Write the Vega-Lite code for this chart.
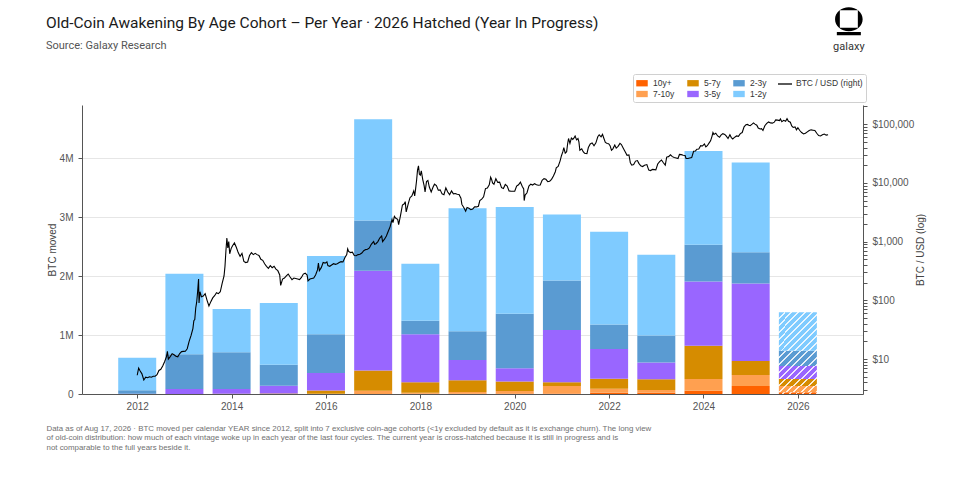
{
  "$schema": "https://vega.github.io/schema/vega-lite/v6.json",
  "width": 781,
  "height": 289,
  "autosize": "none",
  "padding": {"left": 82, "top": 105, "right": 97, "bottom": 108},
  "background": "white",
  "config": {
    "view": {"stroke": null},
    "font": "Liberation Sans",
    "axis": {"labelFont": "Liberation Sans", "titleFont": "Liberation Sans"},
    "legend": {"labelFont": "Liberation Sans"}
  },
  "title": {
    "text": "Old-Coin Awakening By Age Cohort – Per Year · 2026 Hatched (Year In Progress)",
    "subtitle": "Source: Galaxy Research",
    "anchor": "start",
    "frame": "group",
    "dx": -36,
    "dy": 44,
    "offset": 0,
    "font": "Roboto",
    "fontSize": 15.5,
    "fontWeight": "normal",
    "color": "#1a1a1a",
    "subtitleFont": "Roboto",
    "subtitleFontSize": 11,
    "subtitleColor": "#555555",
    "subtitlePadding": 9
  },
  "datasets": {
    "cohorts": [
      {"year":2012,"cohort":"10y+","k":1,"btc":0},{"year":2012,"cohort":"7-10y","k":2,"btc":0},{"year":2012,"cohort":"5-7y","k":3,"btc":0},{"year":2012,"cohort":"3-5y","k":4,"btc":5000},{"year":2012,"cohort":"2-3y","k":5,"btc":60000},{"year":2012,"cohort":"1-2y","k":6,"btc":550000},
      {"year":2013,"cohort":"10y+","k":1,"btc":0},{"year":2013,"cohort":"7-10y","k":2,"btc":0},{"year":2013,"cohort":"5-7y","k":3,"btc":0},{"year":2013,"cohort":"3-5y","k":4,"btc":85000},{"year":2013,"cohort":"2-3y","k":5,"btc":590000},{"year":2013,"cohort":"1-2y","k":6,"btc":1365000},
      {"year":2014,"cohort":"10y+","k":1,"btc":0},{"year":2014,"cohort":"7-10y","k":2,"btc":0},{"year":2014,"cohort":"5-7y","k":3,"btc":5000},{"year":2014,"cohort":"3-5y","k":4,"btc":80000},{"year":2014,"cohort":"2-3y","k":5,"btc":623000},{"year":2014,"cohort":"1-2y","k":6,"btc":735000},
      {"year":2015,"cohort":"10y+","k":1,"btc":0},{"year":2015,"cohort":"7-10y","k":2,"btc":0},{"year":2015,"cohort":"5-7y","k":3,"btc":10000},{"year":2015,"cohort":"3-5y","k":4,"btc":130000},{"year":2015,"cohort":"2-3y","k":5,"btc":357000},{"year":2015,"cohort":"1-2y","k":6,"btc":1047000},
      {"year":2016,"cohort":"10y+","k":1,"btc":0},{"year":2016,"cohort":"7-10y","k":2,"btc":5000},{"year":2016,"cohort":"5-7y","k":3,"btc":55000},{"year":2016,"cohort":"3-5y","k":4,"btc":295000},{"year":2016,"cohort":"2-3y","k":5,"btc":656000},{"year":2016,"cohort":"1-2y","k":6,"btc":1330000},
      {"year":2017,"cohort":"10y+","k":1,"btc":0},{"year":2017,"cohort":"7-10y","k":2,"btc":55000},{"year":2017,"cohort":"5-7y","k":3,"btc":345000},{"year":2017,"cohort":"3-5y","k":4,"btc":1690000},{"year":2017,"cohort":"2-3y","k":5,"btc":850000},{"year":2017,"cohort":"1-2y","k":6,"btc":1720000},
      {"year":2018,"cohort":"10y+","k":1,"btc":5000},{"year":2018,"cohort":"7-10y","k":2,"btc":15000},{"year":2018,"cohort":"5-7y","k":3,"btc":180000},{"year":2018,"cohort":"3-5y","k":4,"btc":815000},{"year":2018,"cohort":"2-3y","k":5,"btc":226000},{"year":2018,"cohort":"1-2y","k":6,"btc":968000},
      {"year":2019,"cohort":"10y+","k":1,"btc":5000},{"year":2019,"cohort":"7-10y","k":2,"btc":30000},{"year":2019,"cohort":"5-7y","k":3,"btc":200000},{"year":2019,"cohort":"3-5y","k":4,"btc":340000},{"year":2019,"cohort":"2-3y","k":5,"btc":490000},{"year":2019,"cohort":"1-2y","k":6,"btc":2085000},
      {"year":2020,"cohort":"10y+","k":1,"btc":10000},{"year":2020,"cohort":"7-10y","k":2,"btc":40000},{"year":2020,"cohort":"5-7y","k":3,"btc":160000},{"year":2020,"cohort":"3-5y","k":4,"btc":227000},{"year":2020,"cohort":"2-3y","k":5,"btc":922000},{"year":2020,"cohort":"1-2y","k":6,"btc":1810000},
      {"year":2021,"cohort":"10y+","k":1,"btc":10000},{"year":2021,"cohort":"7-10y","k":2,"btc":126000},{"year":2021,"cohort":"5-7y","k":3,"btc":63000},{"year":2021,"cohort":"3-5y","k":4,"btc":888000},{"year":2021,"cohort":"2-3y","k":5,"btc":837000},{"year":2021,"cohort":"1-2y","k":6,"btc":1121000},
      {"year":2022,"cohort":"10y+","k":1,"btc":20000},{"year":2022,"cohort":"7-10y","k":2,"btc":70000},{"year":2022,"cohort":"5-7y","k":3,"btc":170000},{"year":2022,"cohort":"3-5y","k":4,"btc":504000},{"year":2022,"cohort":"2-3y","k":5,"btc":413000},{"year":2022,"cohort":"1-2y","k":6,"btc":1573000},
      {"year":2023,"cohort":"10y+","k":1,"btc":22000},{"year":2023,"cohort":"7-10y","k":2,"btc":46000},{"year":2023,"cohort":"5-7y","k":3,"btc":181000},{"year":2023,"cohort":"3-5y","k":4,"btc":283000},{"year":2023,"cohort":"2-3y","k":5,"btc":458000},{"year":2023,"cohort":"1-2y","k":6,"btc":1370000},
      {"year":2024,"cohort":"10y+","k":1,"btc":56000},{"year":2024,"cohort":"7-10y","k":2,"btc":200000},{"year":2024,"cohort":"5-7y","k":3,"btc":560000},{"year":2024,"cohort":"3-5y","k":4,"btc":1092000},{"year":2024,"cohort":"2-3y","k":5,"btc":623000},{"year":2024,"cohort":"1-2y","k":6,"btc":1590000},
      {"year":2025,"cohort":"10y+","k":1,"btc":136000},{"year":2025,"cohort":"7-10y","k":2,"btc":187000},{"year":2025,"cohort":"5-7y","k":3,"btc":237000},{"year":2025,"cohort":"3-5y","k":4,"btc":1313000},{"year":2025,"cohort":"2-3y","k":5,"btc":532000},{"year":2025,"cohort":"1-2y","k":6,"btc":1522000},
      {"year":2026,"cohort":"10y+","k":1,"btc":30000},{"year":2026,"cohort":"7-10y","k":2,"btc":106000},{"year":2026,"cohort":"5-7y","k":3,"btc":119000},{"year":2026,"cohort":"3-5y","k":4,"btc":220000},{"year":2026,"cohort":"2-3y","k":5,"btc":260000},{"year":2026,"cohort":"1-2y","k":6,"btc":652000}
    ],
    "price": [
      {"t":2012.00,"usd":5.3},{"t":2012.03,"usd":7.0},{"t":2012.06,"usd":6.3},{"t":2012.10,"usd":5.6},{"t":2012.14,"usd":4.4},{"t":2012.18,"usd":4.9},{"t":2012.22,"usd":4.8},{"t":2012.26,"usd":5.0},{"t":2012.30,"usd":4.9},{"t":2012.34,"usd":5.1},{"t":2012.38,"usd":5.1},{"t":2012.42,"usd":5.4},{"t":2012.46,"usd":6.4},{"t":2012.50,"usd":6.7},{"t":2012.54,"usd":7.6},{"t":2012.58,"usd":9.0},{"t":2012.62,"usd":11.0},{"t":2012.64,"usd":13.5},{"t":2012.66,"usd":10.0},{"t":2012.70,"usd":11.0},{"t":2012.74,"usd":12.3},{"t":2012.78,"usd":11.8},{"t":2012.82,"usd":11.2},{"t":2012.86,"usd":10.9},{"t":2012.90,"usd":12.4},{"t":2012.94,"usd":13.4},{"t":2012.98,"usd":13.5},
      {"t":2013.02,"usd":13.6},{"t":2013.06,"usd":15.0},{"t":2013.10,"usd":20.0},{"t":2013.14,"usd":25.0},{"t":2013.18,"usd":33.0},{"t":2013.20,"usd":45},{"t":2013.22,"usd":47},{"t":2013.24,"usd":74},{"t":2013.26,"usd":93},{"t":2013.28,"usd":140},{"t":2013.30,"usd":230},{"t":2013.31,"usd":90},{"t":2013.33,"usd":140},{"t":2013.36,"usd":115},{"t":2013.40,"usd":118},{"t":2013.44,"usd":130},{"t":2013.48,"usd":100},{"t":2013.52,"usd":80},{"t":2013.56,"usd":95},{"t":2013.60,"usd":110},{"t":2013.64,"usd":120},{"t":2013.68,"usd":135},{"t":2013.72,"usd":130},{"t":2013.76,"usd":140},{"t":2013.80,"usd":195},{"t":2013.84,"usd":260},{"t":2013.86,"usd":380},{"t":2013.88,"usd":700},{"t":2013.90,"usd":1150},{"t":2013.92,"usd":780},{"t":2013.94,"usd":1000},{"t":2013.96,"usd":620},{"t":2013.99,"usd":760},
      {"t":2014.02,"usd":850},{"t":2014.06,"usd":950},{"t":2014.10,"usd":800},{"t":2014.14,"usd":650},{"t":2014.18,"usd":560},{"t":2014.22,"usd":630},{"t":2014.26,"usd":460},{"t":2014.30,"usd":440},{"t":2014.34,"usd":450},{"t":2014.38,"usd":580},{"t":2014.42,"usd":650},{"t":2014.46,"usd":600},{"t":2014.50,"usd":630},{"t":2014.54,"usd":600},{"t":2014.58,"usd":580},{"t":2014.62,"usd":500},{"t":2014.66,"usd":480},{"t":2014.70,"usd":420},{"t":2014.74,"usd":380},{"t":2014.78,"usd":350},{"t":2014.82,"usd":390},{"t":2014.86,"usd":360},{"t":2014.90,"usd":380},{"t":2014.94,"usd":340},{"t":2014.98,"usd":320},
      {"t":2015.02,"usd":270},{"t":2015.04,"usd":180},{"t":2015.08,"usd":230},{"t":2015.12,"usd":240},{"t":2015.16,"usd":260},{"t":2015.20,"usd":280},{"t":2015.24,"usd":250},{"t":2015.28,"usd":225},{"t":2015.32,"usd":240},{"t":2015.36,"usd":235},{"t":2015.40,"usd":230},{"t":2015.44,"usd":225},{"t":2015.48,"usd":245},{"t":2015.52,"usd":280},{"t":2015.56,"usd":290},{"t":2015.60,"usd":270},{"t":2015.62,"usd":215},{"t":2015.66,"usd":230},{"t":2015.70,"usd":235},{"t":2015.74,"usd":240},{"t":2015.78,"usd":270},{"t":2015.82,"usd":330},{"t":2015.84,"usd":430},{"t":2015.86,"usd":320},{"t":2015.90,"usd":360},{"t":2015.94,"usd":440},{"t":2015.98,"usd":430},
      {"t":2016.02,"usd":450},{"t":2016.04,"usd":390},{"t":2016.08,"usd":380},{"t":2016.12,"usd":400},{"t":2016.16,"usd":420},{"t":2016.20,"usd":410},{"t":2016.24,"usd":420},{"t":2016.28,"usd":440},{"t":2016.32,"usd":455},{"t":2016.36,"usd":450},{"t":2016.40,"usd":530},{"t":2016.44,"usd":600},{"t":2016.46,"usd":750},{"t":2016.48,"usd":680},{"t":2016.52,"usd":650},{"t":2016.56,"usd":660},{"t":2016.60,"usd":580},{"t":2016.64,"usd":575},{"t":2016.68,"usd":600},{"t":2016.72,"usd":610},{"t":2016.76,"usd":640},{"t":2016.80,"usd":700},{"t":2016.84,"usd":730},{"t":2016.88,"usd":740},{"t":2016.92,"usd":780},{"t":2016.96,"usd":900},{"t":2016.99,"usd":960},
      {"t":2017.01,"usd":1000},{"t":2017.03,"usd":900},{"t":2017.06,"usd":920},{"t":2017.10,"usd":1000},{"t":2017.14,"usd":1150},{"t":2017.18,"usd":1250},{"t":2017.20,"usd":1000},{"t":2017.24,"usd":1100},{"t":2017.28,"usd":1250},{"t":2017.32,"usd":1500},{"t":2017.36,"usd":1800},{"t":2017.40,"usd":2400},{"t":2017.42,"usd":2100},{"t":2017.45,"usd":2700},{"t":2017.48,"usd":2500},{"t":2017.52,"usd":2400},{"t":2017.54,"usd":1950},{"t":2017.58,"usd":2800},{"t":2017.62,"usd":4200},{"t":2017.66,"usd":4400},{"t":2017.68,"usd":4800},{"t":2017.70,"usd":3200},{"t":2017.74,"usd":4300},{"t":2017.78,"usd":5600},{"t":2017.82,"usd":6000},{"t":2017.86,"usd":7300},{"t":2017.88,"usd":6000},{"t":2017.90,"usd":8000},{"t":2017.92,"usd":11000},{"t":2017.94,"usd":16500},{"t":2017.96,"usd":19500},{"t":2017.98,"usd":14000},
      {"t":2018.00,"usd":13500},{"t":2018.02,"usd":16000},{"t":2018.05,"usd":11500},{"t":2018.08,"usd":9000},{"t":2018.10,"usd":7000},{"t":2018.13,"usd":10500},{"t":2018.16,"usd":11000},{"t":2018.19,"usd":8500},{"t":2018.23,"usd":7000},{"t":2018.27,"usd":8500},{"t":2018.30,"usd":9500},{"t":2018.34,"usd":9000},{"t":2018.38,"usd":7500},{"t":2018.42,"usd":7600},{"t":2018.46,"usd":6500},{"t":2018.50,"usd":6300},{"t":2018.54,"usd":8200},{"t":2018.58,"usd":7000},{"t":2018.62,"usd":6300},{"t":2018.66,"usd":7300},{"t":2018.70,"usd":6500},{"t":2018.74,"usd":6600},{"t":2018.78,"usd":6400},{"t":2018.82,"usd":6350},{"t":2018.86,"usd":5500},{"t":2018.88,"usd":4300},{"t":2018.92,"usd":3800},{"t":2018.96,"usd":3300},{"t":2018.99,"usd":3800},
      {"t":2019.03,"usd":3700},{"t":2019.07,"usd":3500},{"t":2019.11,"usd":3600},{"t":2019.15,"usd":3900},{"t":2019.19,"usd":3900},{"t":2019.23,"usd":4000},{"t":2019.26,"usd":5000},{"t":2019.30,"usd":5300},{"t":2019.34,"usd":5800},{"t":2019.38,"usd":8000},{"t":2019.42,"usd":8200},{"t":2019.46,"usd":9300},{"t":2019.49,"usd":12500},{"t":2019.51,"usd":11500},{"t":2019.53,"usd":10000},{"t":2019.56,"usd":9500},{"t":2019.60,"usd":11800},{"t":2019.64,"usd":10200},{"t":2019.68,"usd":10300},{"t":2019.72,"usd":8300},{"t":2019.76,"usd":8000},{"t":2019.80,"usd":9400},{"t":2019.84,"usd":8800},{"t":2019.88,"usd":7300},{"t":2019.92,"usd":7200},{"t":2019.96,"usd":7200},
      {"t":2020.00,"usd":7200},{"t":2020.04,"usd":8800},{"t":2020.08,"usd":9300},{"t":2020.12,"usd":10300},{"t":2020.16,"usd":8700},{"t":2020.19,"usd":7900},{"t":2020.20,"usd":5000},{"t":2020.22,"usd":6200},{"t":2020.26,"usd":6800},{"t":2020.30,"usd":8800},{"t":2020.34,"usd":9500},{"t":2020.38,"usd":9200},{"t":2020.42,"usd":9700},{"t":2020.46,"usd":9300},{"t":2020.50,"usd":9100},{"t":2020.54,"usd":9200},{"t":2020.58,"usd":11100},{"t":2020.62,"usd":11800},{"t":2020.66,"usd":11500},{"t":2020.70,"usd":10500},{"t":2020.74,"usd":10700},{"t":2020.78,"usd":11500},{"t":2020.82,"usd":13100},{"t":2020.86,"usd":15500},{"t":2020.88,"usd":18000},{"t":2020.92,"usd":19000},{"t":2020.96,"usd":23500},{"t":2020.99,"usd":29000},
      {"t":2021.02,"usd":34000},{"t":2021.04,"usd":40000},{"t":2021.07,"usd":32000},{"t":2021.10,"usd":34000},{"t":2021.12,"usd":46000},{"t":2021.14,"usd":57000},{"t":2021.17,"usd":47000},{"t":2021.20,"usd":58000},{"t":2021.23,"usd":55000},{"t":2021.26,"usd":59000},{"t":2021.28,"usd":63000},{"t":2021.31,"usd":54000},{"t":2021.34,"usd":57000},{"t":2021.36,"usd":50000},{"t":2021.38,"usd":36000},{"t":2021.42,"usd":38000},{"t":2021.45,"usd":34000},{"t":2021.48,"usd":32000},{"t":2021.53,"usd":31500},{"t":2021.56,"usd":40000},{"t":2021.60,"usd":46000},{"t":2021.64,"usd":48000},{"t":2021.68,"usd":43000},{"t":2021.72,"usd":48000},{"t":2021.76,"usd":61000},{"t":2021.79,"usd":66000},{"t":2021.83,"usd":61000},{"t":2021.86,"usd":67000},{"t":2021.89,"usd":57000},{"t":2021.92,"usd":49000},{"t":2021.96,"usd":47000},{"t":2021.99,"usd":46500},
      {"t":2022.02,"usd":43000},{"t":2022.05,"usd":36000},{"t":2022.08,"usd":38000},{"t":2022.12,"usd":44000},{"t":2022.15,"usd":39000},{"t":2022.19,"usd":42000},{"t":2022.23,"usd":47000},{"t":2022.26,"usd":45000},{"t":2022.30,"usd":39000},{"t":2022.34,"usd":34000},{"t":2022.38,"usd":29500},{"t":2022.42,"usd":30000},{"t":2022.45,"usd":22000},{"t":2022.48,"usd":20000},{"t":2022.52,"usd":20500},{"t":2022.56,"usd":23500},{"t":2022.60,"usd":24000},{"t":2022.63,"usd":21500},{"t":2022.67,"usd":19500},{"t":2022.71,"usd":19000},{"t":2022.75,"usd":20000},{"t":2022.80,"usd":20500},{"t":2022.84,"usd":16500},{"t":2022.88,"usd":16200},{"t":2022.92,"usd":17000},{"t":2022.96,"usd":16800},{"t":2022.99,"usd":16600},
      {"t":2023.03,"usd":21000},{"t":2023.07,"usd":23000},{"t":2023.11,"usd":24500},{"t":2023.15,"usd":22000},{"t":2023.19,"usd":20000},{"t":2023.22,"usd":27500},{"t":2023.26,"usd":28000},{"t":2023.30,"usd":30000},{"t":2023.34,"usd":28000},{"t":2023.38,"usd":27000},{"t":2023.42,"usd":26500},{"t":2023.46,"usd":26000},{"t":2023.49,"usd":30500},{"t":2023.53,"usd":30300},{"t":2023.57,"usd":29500},{"t":2023.61,"usd":29200},{"t":2023.63,"usd":26000},{"t":2023.67,"usd":26000},{"t":2023.71,"usd":26500},{"t":2023.75,"usd":27000},{"t":2023.79,"usd":34500},{"t":2023.83,"usd":35000},{"t":2023.86,"usd":37500},{"t":2023.90,"usd":37800},{"t":2023.94,"usd":43000},{"t":2023.98,"usd":42500},
      {"t":2024.02,"usd":46000},{"t":2024.05,"usd":41000},{"t":2024.08,"usd":43000},{"t":2024.12,"usd":48000},{"t":2024.15,"usd":52000},{"t":2024.18,"usd":62000},{"t":2024.20,"usd":72000},{"t":2024.22,"usd":67000},{"t":2024.26,"usd":70000},{"t":2024.30,"usd":63000},{"t":2024.34,"usd":60000},{"t":2024.37,"usd":65000},{"t":2024.41,"usd":69000},{"t":2024.45,"usd":67000},{"t":2024.48,"usd":63000},{"t":2024.52,"usd":57000},{"t":2024.56,"usd":66000},{"t":2024.59,"usd":59000},{"t":2024.62,"usd":56000},{"t":2024.65,"usd":59000},{"t":2024.70,"usd":63000},{"t":2024.74,"usd":62000},{"t":2024.78,"usd":69000},{"t":2024.82,"usd":72000},{"t":2024.86,"usd":90000},{"t":2024.90,"usd":98000},{"t":2024.93,"usd":99000},{"t":2024.96,"usd":96000},{"t":2024.99,"usd":94000},
      {"t":2025.03,"usd":100000},{"t":2025.06,"usd":105000},{"t":2025.09,"usd":100000},{"t":2025.13,"usd":96000},{"t":2025.16,"usd":86000},{"t":2025.20,"usd":83000},{"t":2025.23,"usd":84000},{"t":2025.26,"usd":78000},{"t":2025.30,"usd":94000},{"t":2025.34,"usd":103000},{"t":2025.38,"usd":109000},{"t":2025.42,"usd":105000},{"t":2025.46,"usd":104000},{"t":2025.50,"usd":108000},{"t":2025.53,"usd":118000},{"t":2025.57,"usd":117000},{"t":2025.61,"usd":115000},{"t":2025.63,"usd":123000},{"t":2025.66,"usd":110000},{"t":2025.70,"usd":116000},{"t":2025.74,"usd":112000},{"t":2025.77,"usd":124000},{"t":2025.80,"usd":112000},{"t":2025.84,"usd":108000},{"t":2025.87,"usd":93000},{"t":2025.90,"usd":88000},{"t":2025.94,"usd":90000},{"t":2025.97,"usd":80000},
      {"t":2026.00,"usd":87000},{"t":2026.04,"usd":78000},{"t":2026.08,"usd":72000},{"t":2026.12,"usd":68000},{"t":2026.16,"usd":70000},{"t":2026.20,"usd":74000},{"t":2026.24,"usd":78000},{"t":2026.28,"usd":80000},{"t":2026.32,"usd":79000},{"t":2026.36,"usd":78000},{"t":2026.40,"usd":70000},{"t":2026.44,"usd":64000},{"t":2026.48,"usd":63000},{"t":2026.52,"usd":66000},{"t":2026.56,"usd":68000},{"t":2026.60,"usd":65000},{"t":2026.64,"usd":66000}
    ]
  },
  "layer": [
    {
      "layer": [
        {
          "data": {"name": "cohorts"},
          "mark": {"type": "bar", "width": 38},
          "encoding": {
            "x": {
              "field": "year", "type": "quantitative",
              "scale": {"domain": [2010.83, 2027.38], "nice": false, "zero": false, "padding": 0},
              "axis": {
                "values": [2012, 2014, 2016, 2018, 2020, 2022, 2024, 2026],
                "format": "d", "grid": false, "tickSize": 4, "labelPadding": 3,
                "labelFontSize": 10, "labelColor": "#555555",
                "domainColor": "#555555", "tickColor": "#555555",
                "title": [
                  "Data as of Aug 17, 2026 · BTC moved per calendar YEAR since 2012, split into 7 exclusive coin-age cohorts (<1y excluded by default as it is exchange churn). The long view",
                  "of old-coin distribution: how much of each vintage woke up in each year of the last four cycles. The current year is cross-hatched because it is still in progress and is",
                  "not comparable to the full years beside it."
                ],
                "titleFontSize": 7.9, "titleFontWeight": "normal", "titleColor": "#707070",
                "titleAlign": "left", "titleBaseline": "top", "titleX": -36, "titleY": 30,
                "titleLineHeight": 9.6
              }
            },
            "y": {
              "field": "btc", "type": "quantitative", "stack": "zero",
              "scale": {"domain": [0, 4900000], "nice": false},
              "axis": {
                "values": [0, 1000000, 2000000, 3000000, 4000000],
                "labelExpr": "datum.value == 0 ? '0' : (datum.value / 1000000) + 'M'",
                "title": "BTC moved", "titleFontSize": 10, "titleColor": "#444444",
                "titleFontWeight": "normal", "titlePadding": 2,
                "grid": true, "gridColor": "#e6e6e6", "tickSize": 4, "labelPadding": 5,
                "labelFontSize": 10, "labelColor": "#555555",
                "domainColor": "#555555", "tickColor": "#555555"
              }
            },
            "order": {"field": "k", "type": "quantitative"},
            "color": {
              "condition": [
                {"test": "datum.year === 2026 && datum.cohort === '1-2y'", "value": {"gradient": "linear", "x1": 0, "y1": 0, "x2": 1, "y2": 1, "stops": [
                  {"offset": 0, "color": "#7fcbff"}, {"offset": 0.065, "color": "#7fcbff"}, {"offset": 0.065, "color": "#eaf6ff"}, {"offset": 0.091, "color": "#eaf6ff"},
                  {"offset": 0.091, "color": "#7fcbff"}, {"offset": 0.156, "color": "#7fcbff"}, {"offset": 0.156, "color": "#eaf6ff"}, {"offset": 0.182, "color": "#eaf6ff"},
                  {"offset": 0.182, "color": "#7fcbff"}, {"offset": 0.247, "color": "#7fcbff"}, {"offset": 0.247, "color": "#eaf6ff"}, {"offset": 0.273, "color": "#eaf6ff"},
                  {"offset": 0.273, "color": "#7fcbff"}, {"offset": 0.338, "color": "#7fcbff"}, {"offset": 0.338, "color": "#eaf6ff"}, {"offset": 0.364, "color": "#eaf6ff"},
                  {"offset": 0.364, "color": "#7fcbff"}, {"offset": 0.429, "color": "#7fcbff"}, {"offset": 0.429, "color": "#eaf6ff"}, {"offset": 0.455, "color": "#eaf6ff"},
                  {"offset": 0.455, "color": "#7fcbff"}, {"offset": 0.52, "color": "#7fcbff"}, {"offset": 0.52, "color": "#eaf6ff"}, {"offset": 0.545, "color": "#eaf6ff"},
                  {"offset": 0.545, "color": "#7fcbff"}, {"offset": 0.611, "color": "#7fcbff"}, {"offset": 0.611, "color": "#eaf6ff"}, {"offset": 0.636, "color": "#eaf6ff"},
                  {"offset": 0.636, "color": "#7fcbff"}, {"offset": 0.702, "color": "#7fcbff"}, {"offset": 0.702, "color": "#eaf6ff"}, {"offset": 0.727, "color": "#eaf6ff"},
                  {"offset": 0.727, "color": "#7fcbff"}, {"offset": 0.793, "color": "#7fcbff"}, {"offset": 0.793, "color": "#eaf6ff"}, {"offset": 0.818, "color": "#eaf6ff"},
                  {"offset": 0.818, "color": "#7fcbff"}, {"offset": 0.884, "color": "#7fcbff"}, {"offset": 0.884, "color": "#eaf6ff"}, {"offset": 0.909, "color": "#eaf6ff"},
                  {"offset": 0.909, "color": "#7fcbff"}, {"offset": 0.975, "color": "#7fcbff"}, {"offset": 0.975, "color": "#eaf6ff"}, {"offset": 1, "color": "#eaf6ff"}
                ]}},
                {"test": "datum.year === 2026 && datum.cohort === '2-3y'", "value": {"gradient": "linear", "x1": 0, "y1": 0, "x2": 1.207, "y2": 0.486, "stops": [
                  {"offset": 0, "color": "#5a9bd2"}, {"offset": 0.103, "color": "#5a9bd2"}, {"offset": 0.103, "color": "#e3eef8"}, {"offset": 0.143, "color": "#e3eef8"},
                  {"offset": 0.143, "color": "#5a9bd2"}, {"offset": 0.246, "color": "#5a9bd2"}, {"offset": 0.246, "color": "#e3eef8"}, {"offset": 0.286, "color": "#e3eef8"},
                  {"offset": 0.286, "color": "#5a9bd2"}, {"offset": 0.389, "color": "#5a9bd2"}, {"offset": 0.389, "color": "#e3eef8"}, {"offset": 0.429, "color": "#e3eef8"},
                  {"offset": 0.429, "color": "#5a9bd2"}, {"offset": 0.532, "color": "#5a9bd2"}, {"offset": 0.532, "color": "#e3eef8"}, {"offset": 0.571, "color": "#e3eef8"},
                  {"offset": 0.571, "color": "#5a9bd2"}, {"offset": 0.675, "color": "#5a9bd2"}, {"offset": 0.675, "color": "#e3eef8"}, {"offset": 0.714, "color": "#e3eef8"},
                  {"offset": 0.714, "color": "#5a9bd2"}, {"offset": 0.818, "color": "#5a9bd2"}, {"offset": 0.818, "color": "#e3eef8"}, {"offset": 0.857, "color": "#e3eef8"},
                  {"offset": 0.857, "color": "#5a9bd2"}, {"offset": 0.961, "color": "#5a9bd2"}, {"offset": 0.961, "color": "#e3eef8"}, {"offset": 1, "color": "#e3eef8"}
                ]}},
                {"test": "datum.year === 2026 && datum.cohort === '3-5y'", "value": {"gradient": "linear", "x1": 0, "y1": 0, "x2": 1.201, "y2": 0.411, "stops": [
                  {"offset": 0, "color": "#9966ff"}, {"offset": 0.103, "color": "#9966ff"}, {"offset": 0.103, "color": "#efe6ff"}, {"offset": 0.143, "color": "#efe6ff"},
                  {"offset": 0.143, "color": "#9966ff"}, {"offset": 0.246, "color": "#9966ff"}, {"offset": 0.246, "color": "#efe6ff"}, {"offset": 0.286, "color": "#efe6ff"},
                  {"offset": 0.286, "color": "#9966ff"}, {"offset": 0.389, "color": "#9966ff"}, {"offset": 0.389, "color": "#efe6ff"}, {"offset": 0.429, "color": "#efe6ff"},
                  {"offset": 0.429, "color": "#9966ff"}, {"offset": 0.532, "color": "#9966ff"}, {"offset": 0.532, "color": "#efe6ff"}, {"offset": 0.571, "color": "#efe6ff"},
                  {"offset": 0.571, "color": "#9966ff"}, {"offset": 0.675, "color": "#9966ff"}, {"offset": 0.675, "color": "#efe6ff"}, {"offset": 0.714, "color": "#efe6ff"},
                  {"offset": 0.714, "color": "#9966ff"}, {"offset": 0.818, "color": "#9966ff"}, {"offset": 0.818, "color": "#efe6ff"}, {"offset": 0.857, "color": "#efe6ff"},
                  {"offset": 0.857, "color": "#9966ff"}, {"offset": 0.961, "color": "#9966ff"}, {"offset": 0.961, "color": "#efe6ff"}, {"offset": 1, "color": "#efe6ff"}
                ]}},
                {"test": "datum.year === 2026 && datum.cohort === '5-7y'", "value": {"gradient": "linear", "x1": 0, "y1": 0, "x2": 1.145, "y2": 0.211, "stops": [
                  {"offset": 0, "color": "#d68c00"}, {"offset": 0.12, "color": "#d68c00"}, {"offset": 0.12, "color": "#f8ecd6"}, {"offset": 0.167, "color": "#f8ecd6"},
                  {"offset": 0.167, "color": "#d68c00"}, {"offset": 0.287, "color": "#d68c00"}, {"offset": 0.287, "color": "#f8ecd6"}, {"offset": 0.333, "color": "#f8ecd6"},
                  {"offset": 0.333, "color": "#d68c00"}, {"offset": 0.453, "color": "#d68c00"}, {"offset": 0.453, "color": "#f8ecd6"}, {"offset": 0.5, "color": "#f8ecd6"},
                  {"offset": 0.5, "color": "#d68c00"}, {"offset": 0.62, "color": "#d68c00"}, {"offset": 0.62, "color": "#f8ecd6"}, {"offset": 0.667, "color": "#f8ecd6"},
                  {"offset": 0.667, "color": "#d68c00"}, {"offset": 0.787, "color": "#d68c00"}, {"offset": 0.787, "color": "#f8ecd6"}, {"offset": 0.833, "color": "#f8ecd6"},
                  {"offset": 0.833, "color": "#d68c00"}, {"offset": 0.953, "color": "#d68c00"}, {"offset": 0.953, "color": "#f8ecd6"}, {"offset": 1, "color": "#f8ecd6"}
                ]}},
                {"test": "datum.year === 2026 && datum.cohort === '7-10y'", "value": {"gradient": "linear", "x1": 0, "y1": 0, "x2": 1.133, "y2": 0.185, "stops": [
                  {"offset": 0, "color": "#ffa050"}, {"offset": 0.12, "color": "#ffa050"}, {"offset": 0.12, "color": "#fff0e3"}, {"offset": 0.167, "color": "#fff0e3"},
                  {"offset": 0.167, "color": "#ffa050"}, {"offset": 0.287, "color": "#ffa050"}, {"offset": 0.287, "color": "#fff0e3"}, {"offset": 0.333, "color": "#fff0e3"},
                  {"offset": 0.333, "color": "#ffa050"}, {"offset": 0.453, "color": "#ffa050"}, {"offset": 0.453, "color": "#fff0e3"}, {"offset": 0.5, "color": "#fff0e3"},
                  {"offset": 0.5, "color": "#ffa050"}, {"offset": 0.62, "color": "#ffa050"}, {"offset": 0.62, "color": "#fff0e3"}, {"offset": 0.667, "color": "#fff0e3"},
                  {"offset": 0.667, "color": "#ffa050"}, {"offset": 0.787, "color": "#ffa050"}, {"offset": 0.787, "color": "#fff0e3"}, {"offset": 0.833, "color": "#fff0e3"},
                  {"offset": 0.833, "color": "#ffa050"}, {"offset": 0.953, "color": "#ffa050"}, {"offset": 0.953, "color": "#fff0e3"}, {"offset": 1, "color": "#fff0e3"}
                ]}},
                {"test": "datum.year === 2026 && datum.cohort === '10y+'", "value": {"gradient": "linear", "x1": 0, "y1": 0, "x2": 1.045, "y2": 0.049, "stops": [
                  {"offset": 0, "color": "#ff6200"}, {"offset": 0.12, "color": "#ff6200"}, {"offset": 0.12, "color": "#ffe6d6"}, {"offset": 0.167, "color": "#ffe6d6"},
                  {"offset": 0.167, "color": "#ff6200"}, {"offset": 0.287, "color": "#ff6200"}, {"offset": 0.287, "color": "#ffe6d6"}, {"offset": 0.333, "color": "#ffe6d6"},
                  {"offset": 0.333, "color": "#ff6200"}, {"offset": 0.453, "color": "#ff6200"}, {"offset": 0.453, "color": "#ffe6d6"}, {"offset": 0.5, "color": "#ffe6d6"},
                  {"offset": 0.5, "color": "#ff6200"}, {"offset": 0.62, "color": "#ff6200"}, {"offset": 0.62, "color": "#ffe6d6"}, {"offset": 0.667, "color": "#ffe6d6"},
                  {"offset": 0.667, "color": "#ff6200"}, {"offset": 0.787, "color": "#ff6200"}, {"offset": 0.787, "color": "#ffe6d6"}, {"offset": 0.833, "color": "#ffe6d6"},
                  {"offset": 0.833, "color": "#ff6200"}, {"offset": 0.953, "color": "#ff6200"}, {"offset": 0.953, "color": "#ffe6d6"}, {"offset": 1, "color": "#ffe6d6"}
                ]}}
              ],
              "field": "cohort", "type": "nominal",
              "scale": {
                "domain": ["10y+", "5-7y", "2-3y", "BTC / USD (right)", "7-10y", "3-5y", "1-2y"],
                "range": ["#ff6200", "#d68c00", "#5a9bd2", "#ffffff", "#ffa050", "#9966ff", "#7fcbff"]
              },
              "legend": {
                "orient": "none", "legendX": 551, "legendY": -31,
                "columns": 4, "direction": "horizontal", "title": null,
                "symbolType": "M-1,-0.55H1V0.55H-1Z", "symbolSize": 132,
                "symbolStrokeWidth": 0, "labelFontSize": 8.5, "labelColor": "#333333",
                "labelOffset": 5, "columnPadding": 12, "rowPadding": 0, "padding": 3,
                "strokeColor": "#d0d0d0", "fillColor": "#ffffff", "cornerRadius": 2
              }
            }
          }
        },
        {
          "data": {"values": [{}]},
          "mark": {"type": "point", "shape": "M-0.92,-0.12A0.92,0.8,0,1,1,0.92,-0.12A0.92,0.8,0,1,1,-0.92,-0.12ZM-0.6,-0.72L-0.6,0.45L0.6,0.45L0.6,-0.72ZM-0.8,0.74L0.8,0.74L0.8,0.95L-0.8,0.95Z", "filled": true, "fill": "#000000", "opacity": 1, "size": 900, "strokeWidth": 0},
          "encoding": {
            "x": {"datum": 2027.08, "type": "quantitative"},
            "y": {"datum": 6324000, "type": "quantitative"}
          }
        },
        {
          "data": {"values": [{}]},
          "mark": {"type": "text", "text": "galaxy", "font": "Roboto", "fontSize": 11, "color": "#333333", "align": "center", "baseline": "middle"},
          "encoding": {
            "x": {"datum": 2027.08, "type": "quantitative"},
            "y": {"datum": 5883000, "type": "quantitative"}
          }
        }
      ]
    },
    {
      "data": {"name": "price"},
      "mark": {"type": "line", "strokeWidth": 1.1},
      "encoding": {
        "x": {"field": "t", "type": "quantitative"},
        "y": {
          "field": "usd", "type": "quantitative",
          "scale": {"type": "log", "domain": [2.54, 212000], "nice": false},
          "axis": {
            "orient": "right",
            "values": [3,4,5,6,7,8,9,10,20,30,40,50,60,70,80,90,100,200,300,400,500,600,700,800,900,1000,2000,3000,4000,5000,6000,7000,8000,9000,10000,20000,30000,40000,50000,60000,70000,80000,90000,100000,200000],
            "labelExpr": "indexof([10,100,1000,10000,100000], datum.value) >= 0 ? '$' + format(datum.value, ',') : ''",
            "labelOverlap": false,
            "tickSize": 4,
            "encode": {"ticks": {"update": {"x2": {"condition": {"test": "indexof([10,100,1000,10000,100000], datum.value) >= 0", "value": 4}, "value": 2}}}},
            "grid": false, "labelPadding": 5, "labelFontSize": 10, "labelColor": "#555555",
            "domainColor": "#555555", "tickColor": "#555555",
            "title": "BTC / USD (log)", "titleAngle": 270, "titleFontSize": 10,
            "titleColor": "#444444", "titleFontWeight": "normal", "titlePadding": 12
          }
        },
        "stroke": {
          "datum": "BTC / USD (right)", "type": "nominal",
          "scale": {"range": ["#000000"]},
          "legend": {
            "orient": "none", "legendX": 695, "legendY": -29, "title": null,
            "symbolType": "stroke", "symbolSize": 196, "symbolStrokeWidth": 1.3,
            "labelExpr": "''", "labelFontSize": 8.5, "labelOffset": 0,
            "padding": 0, "strokeColor": null, "fillColor": null
          }
        }
      }
    }
  ],
  "resolve": {"scale": {"y": "independent"}}
}
